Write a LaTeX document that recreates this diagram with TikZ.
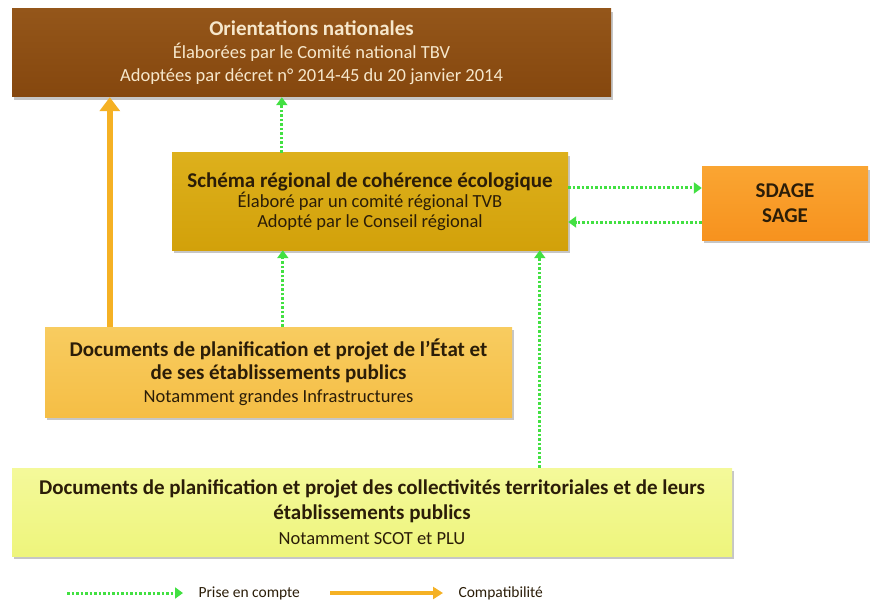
\documentclass[tikz,border=0pt]{standalone}
\usepackage{fontspec}
\setmainfont{Carlito}
\usetikzlibrary{arrows.meta,shadows}

\definecolor{brun}{HTML}{85470E}
\definecolor{brunclair}{HTML}{94561A}
\definecolor{creme}{HTML}{F6E7CB}
\definecolor{ocre}{HTML}{D2A10A}
\definecolor{ocreclair}{HTML}{DDB01C}
\definecolor{orange}{HTML}{F7921E}
\definecolor{orangeclair}{HTML}{FAA532}
\definecolor{jaune}{HTML}{F5BE45}
\definecolor{jauneclair}{HTML}{F8CC60}
\definecolor{citron}{HTML}{EEF57C}
\definecolor{citronclair}{HTML}{F4F99A}
\definecolor{sombre}{HTML}{2B1D08}
\definecolor{vertfleche}{HTML}{42E042}
\definecolor{orfleche}{HTML}{F5B124}

\newcommand{\gras}[1]{{\bfseries\fontsize{21}{23}\selectfont #1}}

\tikzset{
  boite/.style={rectangle, inner sep=0pt, align=center, text=sombre,
    drop shadow={opacity=0.45, shadow xshift=2pt, shadow yshift=-3pt}},
  prise/.style={draw=vertfleche, line width=3pt, dash pattern=on 2.5pt off 2pt,
    -{Triangle[length=8pt,width=11pt]}},
  compat/.style={draw=orfleche, line width=6pt, -{Triangle[length=14pt,width=20pt]}},
}

\begin{document}
\begin{tikzpicture}[x=1pt,y=-1pt]
	\useasboundingbox (0,0) rectangle (872,604);
	\node[boite, top color=brunclair, bottom color=brun, text=creme, minimum width=599pt, minimum height=88pt,
		font=\fontsize{18.5}{23}\selectfont] (orient) at (311.5,53)
		{\gras{Orientations nationales}\\Élaborées par le Comité national TBV\\Adoptées par décret n° 2014-45 du 20 janvier 2014};
	\node[boite, top color=ocreclair, bottom color=ocre, minimum width=396pt, minimum height=97pt,
		font=\fontsize{18.5}{20}\selectfont] (schema) at (370,201.5)
		{{\bfseries\fontsize{21}{20}\selectfont Schéma régional de cohérence écologique}\\Élaboré par un comité régional TVB\\Adopté par le Conseil régional};
	\node[boite, top color=orangeclair, bottom color=orange, minimum width=166pt, minimum height=73pt,
		font=\bfseries\fontsize{21}{25}\selectfont] (sdage) at (785,203.5) {SDAGE\\SAGE};
	\node[boite, top color=jauneclair, bottom color=jaune, minimum width=467pt, minimum height=90pt,
		font=\fontsize{18.5}{23}\selectfont] (etat) at (278.5,372)
		{\gras{Documents de planification et projet de l’État et}\\\gras{de ses établissements publics}\\Notamment grandes Infrastructures};
	\node[boite, top color=citronclair, bottom color=citron, minimum width=720pt, minimum height=88pt,
		font=\fontsize{18.5}{25}\selectfont] (bas) at (372,512)
		{\gras{Documents de planification et projet des collectivités territoriales et de leurs}\\\gras{établissements publics}\\Notamment SCOT et PLU};

	\draw[compat] ([xshift=65pt]etat.north west) -- ([xshift=65pt]etat.north west |- orient.south);
	\draw[prise] ([xshift=110pt]schema.north west) -- ([xshift=110pt]schema.north west |- orient.south);
	\draw[prise] ([xshift=238pt]etat.north west) -- ([xshift=238pt]etat.north west |- schema.south);
	\draw[prise] ([xshift=528pt]bas.north west) -- ([xshift=528pt]bas.north west |- schema.south);
	\draw[prise] ([yshift=13.5pt]schema.east) -- ([yshift=13.5pt]schema.east -| sdage.west);
	\draw[prise] ([yshift=-20.5pt]schema.east -| sdage.west) -- ([yshift=-20.5pt]schema.east);

	\coordinate (p1) at (67,593);
	\coordinate (p2) at (183,593);
	\coordinate (c1) at (330,593);
	\coordinate (c2) at (443,593);
	\draw[prise] (p1) -- (p2);
	\draw[compat, line width=4pt, -{Triangle[length=10pt,width=12pt]}] (c1) -- (c2);
	\node[anchor=west, font=\fontsize{15.5}{17}\selectfont, text=sombre] (lprise) at ([xshift=12pt]p2) {Prise en compte};
	\node[anchor=west, font=\fontsize{15.5}{17}\selectfont, text=sombre] (lcompat) at ([xshift=12pt]c2) {Compatibilité};
\end{tikzpicture}
\end{document}
